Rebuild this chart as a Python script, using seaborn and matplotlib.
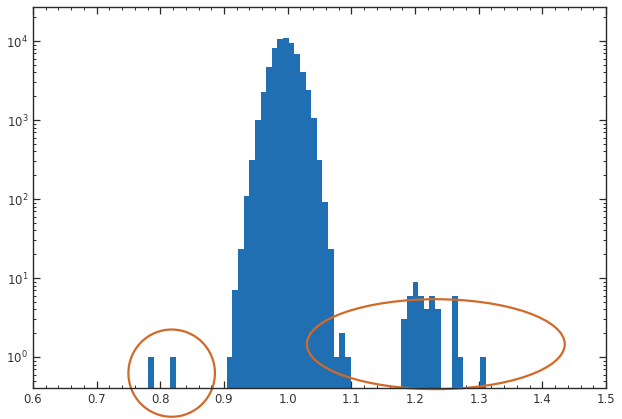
import numpy as np
import pandas as pd
import matplotlib
matplotlib.use("Agg")
import matplotlib.pyplot as plt
from matplotlib.patches import Ellipse
from matplotlib.ticker import MultipleLocator, FormatStrFormatter
import seaborn as sns

# Histogram: 60 equal bins between the smallest and largest ratio
bin_min = 0.7806
bin_max = 1.311
n_bins = 60
counts = [
    1, 0, 0, 0, 1, 0, 0, 0, 0, 0,            # 0-9
    0, 0, 0, 0, 1, 7, 23, 109, 312, 1000,     # 10-19
    2270, 4700, 8100, 10500, 10800, 9500, 6950, 4100, 2400, 1050,  # 20-29
    312, 92, 23, 1, 2, 1, 0, 0, 0, 0,         # 30-39
    0, 0, 0, 0, 0, 3, 6, 9, 6, 4,             # 40-49
    6, 4, 0, 0, 6, 1, 0, 0, 0, 1,             # 50-59
]

edges = np.linspace(bin_min, bin_max, n_bins + 1)
centers = (edges[:-1] + edges[1:]) / 2
df = pd.DataFrame({"ratio": centers, "count": counts})

sns.set_style("ticks")
plt.rcParams["font.family"] = ["DejaVu Sans"]

fig = plt.figure(figsize=(6.22, 4.19), dpi=100)
ax = fig.add_axes([33 / 622, 1 - 388 / 419, 573 / 622, 381 / 419])

sns.histplot(data=df, x="ratio", weights="count", bins=list(edges), ax=ax,
             color="#1f6fb2", alpha=1.0, linewidth=0, edgecolor="none")
ax.set_yscale("log", nonpositive="clip")
ax.set_xlim(0.6, 1.5)
ax.set_ylim(0.405, 27000)
ax.set_xlabel("")
ax.set_ylabel("")

ax.xaxis.set_major_locator(MultipleLocator(0.1))
ax.xaxis.set_minor_locator(MultipleLocator(0.02))
ax.xaxis.set_major_formatter(FormatStrFormatter("%.1f"))
ax.tick_params(which="both", direction="in", top=True, right=True,
               colors="#2a2a2a", labelcolor="#333333", labelsize=8.5)
ax.tick_params(which="major", length=5, width=0.9)
ax.tick_params(which="minor", length=2.5, width=0.7)
for s in ax.spines.values():
    s.set_color("#2a2a2a")
    s.set_linewidth(1.0)

# Highlight the outlying groups
orange = "#d06a28"
ax.add_patch(Ellipse((0.242, 0.039), 0.151, 0.229, transform=ax.transAxes,
                     fill=False, edgecolor=orange, linewidth=1.6, clip_on=False))
ax.add_patch(Ellipse((0.703, 0.115), 0.450, 0.236, transform=ax.transAxes,
                     fill=False, edgecolor=orange, linewidth=1.6, clip_on=False))

fig.savefig("out.png", dpi=100)
